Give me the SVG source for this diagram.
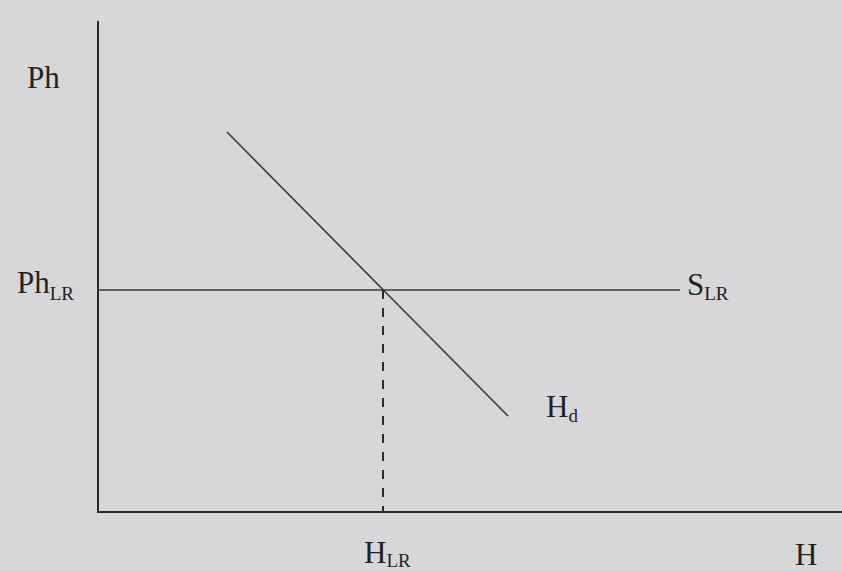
<svg xmlns="http://www.w3.org/2000/svg" width="842" height="571" viewBox="0 0 842 571">
<style>
.ax{stroke:#2a2a2a;stroke-width:2;fill:none}
.ln{stroke:#3a3a3a;stroke-width:1.6;fill:none}
.ds{stroke:#2a2a2a;stroke-width:2;stroke-dasharray:9 9;fill:none}
.t{font-family:"Liberation Serif",serif;font-size:31px;fill:#222}
.s{font-size:19px}
</style>
<rect width="842" height="571" fill="#d7d7d9"/>
<g id="connectors">
<line class="ax" x1="98" y1="21" x2="98" y2="512"/>
<line class="ax" x1="97" y1="512" x2="842" y2="512"/>
<line class="ln" x1="98" y1="290" x2="680" y2="290"/>
<line class="ln" x1="227" y1="132" x2="508" y2="416"/>
<line class="ds" x1="383" y1="290" x2="383" y2="512"/>
</g>
<g id="label-Ph"><text class="t" x="27" y="88">Ph</text></g>
<g id="label-PhLR"><text class="t" x="17" y="293">Ph<tspan class="s" dy="7">LR</tspan></text></g>
<g id="label-SLR"><text class="t" x="687" y="295">S<tspan class="s" dy="5">LR</tspan></text></g>
<g id="label-Hd"><text class="t" x="546" y="417">H<tspan class="s" dy="5">d</tspan></text></g>
<g id="label-HLR"><text class="t" x="364" y="563">H<tspan class="s" dy="4">LR</tspan></text></g>
<g id="label-H"><text class="t" x="795" y="565">H</text></g>
</svg>
